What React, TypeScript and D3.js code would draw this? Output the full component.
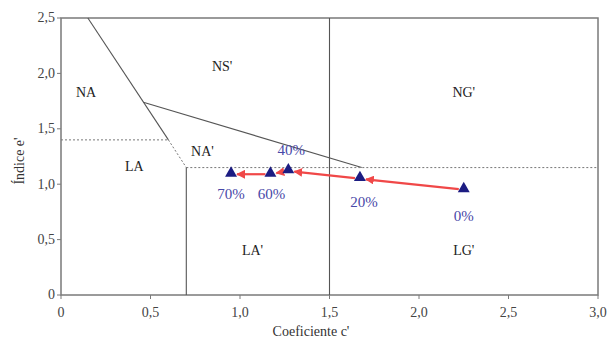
import * as d3 from 'd3';

const W = 609;
const H = 341;
const MARGIN = { top: 18, right: 11, bottom: 46, left: 61 };
const FONT = "'Liberation Serif'";

// path of the sample (c', e') for each replacement level
const levels = ['0%', '20%', '40%', '60%', '70%'];
const coefC = [2.25, 1.67, 1.27, 1.17, 0.95];
const indexE = [0.95, 1.05, 1.12, 1.09, 1.09];
// label offsets (px) relative to the point
const labelDy = [28, 25, -19, 21, 21];
const labelDx = [0, 4, 3, 1, 0];

const xTicks = [0, 0.5, 1.0, 1.5, 2.0, 2.5, 3.0];
const yTicks = [0, 0.5, 1.0, 1.5, 2.0, 2.5];

// zone boundaries: [c1, e1, c2, e2, dashed]
const boundaries: [number, number, number, number, boolean][] = [
  [0.15, 2.5, 0.6, 1.4, false],
  [0.6, 1.4, 0.7, 1.15, true],
  [0.46, 1.74, 1.68, 1.15, false],
  [0, 1.4, 0.6, 1.4, true],
  [0.7, 1.15, 3.0, 1.15, true],
  [0.7, 0, 0.7, 1.15, false],
  [1.5, 0, 1.5, 2.5, false],
];

const zoneNames = ['NA', 'NS\'', 'NG\'', 'LA', 'NA\'', 'LA\'', 'LG\''];
const zoneC = [0.14, 0.9, 2.25, 0.41, 0.79, 1.07, 2.25];
const zoneE = [1.82, 2.05, 1.82, 1.15, 1.28, 0.39, 0.39];

const fmt = (d: number) => (d === 0 ? '0' : d.toFixed(1).replace('.', ','));

export default function App() {
  const innerW = W - MARGIN.left - MARGIN.right;
  const innerH = H - MARGIN.top - MARGIN.bottom;
  const x = d3.scaleLinear().domain([0, 3]).range([0, innerW]);
  const y = d3.scaleLinear().domain([0, 2.5]).range([innerH, 0]);
  const tri = d3.symbol().type(d3.symbolTriangle).size(62)() as string;

  // arrows between consecutive levels, trimmed so they stop short of the markers
  const arrows = d3.range(coefC.length - 1).map(i => {
    const x1 = x(coefC[i]), y1 = y(indexE[i]);
    const x2 = x(coefC[i + 1]), y2 = y(indexE[i + 1]);
    const len = Math.hypot(x2 - x1, y2 - y1);
    const ux = (x2 - x1) / len, uy = (y2 - y1) / len;
    return { x1: x1 + ux * 5, y1: y1 + uy * 5, x2: x2 - ux * 6, y2: y2 - uy * 6 };
  });

  const txt = { fontFamily: FONT, fontSize: 14 };

  return (
    <div style={{ position: 'absolute', left: 0, top: 0 }}>
      <svg width={W} height={H} style={{ display: 'block', background: '#fff' }}>
        <defs>
          <marker id="arrow" viewBox="0 0 10 10" refX={9} refY={5} markerWidth={4} markerHeight={4}
            markerUnits="strokeWidth" orient="auto">
            <path d="M0,0 L10,5 L0,10 z" fill="#f04848" />
          </marker>
        </defs>
        <g transform={`translate(${MARGIN.left},${MARGIN.top})`}>
          <rect width={innerW} height={innerH} fill="none" stroke="#7a7a7a" strokeWidth={1.5} />

          {boundaries.map((d, i) => (
            <line key={i} x1={x(d[0])} y1={y(d[1])} x2={x(d[2])} y2={y(d[3])}
              stroke={d[4] ? '#777' : '#555'} strokeWidth={d[4] ? 1 : 1.1}
              strokeDasharray={d[4] ? '2,2' : undefined} />
          ))}

          {zoneNames.map((n, i) => (
            <text key={n} x={x(zoneC[i])} y={y(zoneE[i])} textAnchor="middle" dominantBaseline="middle"
              fill="#222" style={txt}>{n}</text>
          ))}

          {xTicks.map(t => (
            <g key={t} transform={`translate(${x(t)},${innerH})`}>
              <line y2={4} stroke="#7a7a7a" />
              <text y={22} textAnchor="middle" fill="#444" style={txt}>{fmt(t)}</text>
            </g>
          ))}
          {yTicks.map(t => (
            <g key={t} transform={`translate(0,${y(t)})`}>
              <line x2={-4} stroke="#7a7a7a" />
              <text x={-6} dy="0.32em" textAnchor="end" fill="#444" style={txt}>{fmt(t)}</text>
            </g>
          ))}

          {arrows.map((a, i) => (
            <line key={i} {...a} stroke="#f04848" strokeWidth={2.2} markerEnd="url(#arrow)" />
          ))}

          {levels.map((l, i) => (
            <path key={l} d={tri} transform={`translate(${x(coefC[i])},${y(indexE[i]) - 1})`} fill="#1c1c82" />
          ))}

          {levels.map((l, i) => (
            <text key={l} x={x(coefC[i]) + labelDx[i]} y={y(indexE[i]) + labelDy[i]}
              textAnchor="middle" dominantBaseline="middle" fill="#4848a8"
              style={{ fontFamily: FONT, fontSize: 15 }}>{l}</text>
          ))}
        </g>
        <text x={311} y={336} textAnchor="middle" fill="#333" style={txt}>
          Coeficiente c'
        </text>
        <text transform={`translate(24,161) rotate(-90)`} textAnchor="middle"
          fill="#333" style={txt}>Índice e'</text>
      </svg>
    </div>
  );
}
